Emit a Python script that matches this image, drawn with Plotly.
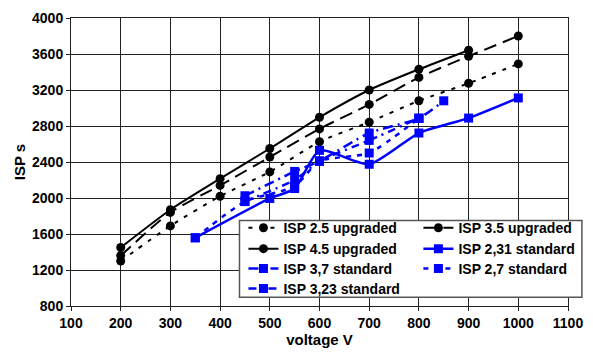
import plotly.graph_objects as go

# --- data ---
v_up25 = [200, 300, 400, 500, 600, 700, 800, 900, 1000]
isp_up25 = [1300, 1690, 2020, 2290, 2625, 2843, 3080, 3275, 3490]

v_up35 = [200, 300, 400, 500, 600, 700, 800, 900, 1000]
isp_up35 = [1360, 1840, 2140, 2455, 2768, 3040, 3340, 3575, 3800]

v_up45 = [200, 300, 400, 500, 600, 700, 800, 900]
isp_up45 = [1450, 1870, 2215, 2550, 2897, 3200, 3430, 3642]

v_s231 = [350, 500, 550, 600, 700, 800, 900, 1000]
isp_s231 = [1558, 1995, 2105, 2530, 2375, 2722, 2888, 3112]

v_s37 = [450, 550, 600, 700, 800, 850]
isp_s37 = [2025, 2295, 2410, 2722, 2886, 3080]

v_s27 = [350, 450, 550, 600, 700, 800]
isp_s27 = [1558, 1960, 2130, 2410, 2500, 2886]

v_s323 = [450, 550, 600, 700, 800]
isp_s323 = [1965, 2200, 2410, 2640, 2886]

x_ticks = [100, 200, 300, 400, 500, 600, 700, 800, 900, 1000, 1100]
y_ticks = [800, 1200, 1600, 2000, 2400, 2800, 3200, 3600, 4000]

BLUE = "#0000FF"
fig = go.Figure()

# legend slots (row, col) -> each entry in its own legend box
ROW_Y = [0.326, 0.2533, 0.1841, 0.1148]
COL_X = [0.347, 0.699]
leg_font = dict(family="Liberation Sans", size=14, color="black")
legend_layouts = {}

def add(x, y, name, color, dash, symbol, width, idx, row, col):
    key = "legend" if idx == 1 else "legend%d" % idx
    fig.add_trace(go.Scatter(
        x=x, y=y, name="<b>" + name + "</b>", mode="lines+markers",
        line=dict(color=color, dash=dash, width=width, shape="spline", smoothing=0.6),
        marker=dict(color=color, symbol=symbol, size=9),
        legend=key, showlegend=True,
    ))
    legend_layouts[key] = dict(
        x=COL_X[col], y=ROW_Y[row], xanchor="left", yanchor="top",
        bgcolor="rgba(0,0,0,0)", borderwidth=0, font=leg_font, itemwidth=30,
        visible=True,
    )

add(v_up25, isp_up25, "ISP 2.5 upgraded", "black", "4px,7px", "circle", 2, 1, 0, 0)
add(v_up35, isp_up35, "ISP 3.5 upgraded", "black", "13px,7px", "circle", 2, 2, 0, 1)
add(v_up45, isp_up45, "ISP 4.5 upgraded", "black", "solid", "circle", 2, 3, 1, 0)
add(v_s231, isp_s231, "ISP 2,31 standard", BLUE, "solid", "square", 2.5, 4, 1, 1)
add(v_s37, isp_s37, "ISP 3,7 standard", BLUE, "10px,5px,2px,5px", "square", 2.5, 5, 2, 0)
add(v_s27, isp_s27, "ISP 2,7 standard", BLUE, "5px,6px", "square", 2.5, 6, 2, 1)
add(v_s323, isp_s323, "ISP 3,23 standard", BLUE, "8px,5px,2px,5px", "square", 2.5, 7, 3, 0)

axis_common = dict(
    showgrid=True, gridcolor="#222", gridwidth=1,
    showline=True, linecolor="#222", linewidth=1, mirror=True,
    ticks="outside", ticklen=4, tickcolor="#222",
    tickfont=dict(family="Liberation Sans", size=14, color="black"),
    zeroline=False,
)

fig.update_layout(
    width=593, height=353,
    margin=dict(l=71, r=24, t=10, b=47),
    paper_bgcolor="white", plot_bgcolor="white",
    font=dict(family="Liberation Sans", color="black"),
    showlegend=True,
    xaxis=dict(range=[100, 1100], tickvals=x_ticks,
               ticktext=["<b>%d</b>" % t for t in x_ticks],
               title=dict(text="<b>voltage V</b>", font=dict(size=15), standoff=2),
               **axis_common),
    yaxis=dict(range=[800, 4000], tickvals=y_ticks,
               ticktext=["<b>%d</b>" % t for t in y_ticks],
               title=dict(text="<b>ISP s</b>", font=dict(size=15), standoff=2),
               **axis_common),
    shapes=[dict(type="rect", xref="paper", yref="paper",
                 x0=0.339, x1=1.028, y0=0.030, y1=0.297,
                 line=dict(color="#555", width=1.5), fillcolor="white",
                 layer="above")],
    **legend_layouts,
)
fig.write_html("out.html")
